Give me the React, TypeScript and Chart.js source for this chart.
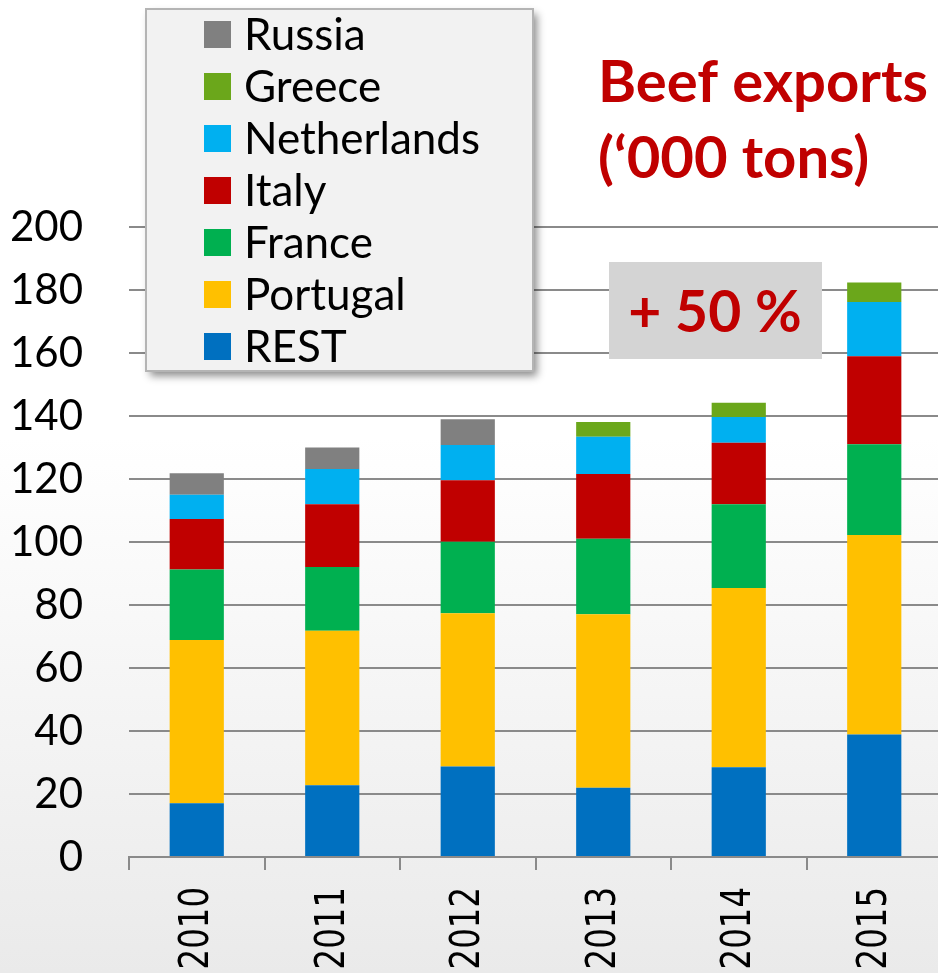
import { useEffect, useRef } from "react";
import { Chart, registerables } from "chart.js";

Chart.register(...registerables);

// ---- data ----
const years = ["2010", "2011", "2012", "2013", "2014", "2015"];
const rest = [17.1, 22.8, 28.7, 22.0, 28.5, 38.9];
const portugal = [51.8, 49.0, 48.7, 55.1, 56.9, 63.3];
const france = [22.4, 20.3, 22.7, 23.9, 26.6, 28.8];
const italy = [16.0, 19.9, 19.5, 20.6, 19.5, 28.0];
const netherlands = [7.7, 11.2, 11.2, 11.8, 8.2, 17.2];
const greece = [0, 0, 0, 4.7, 4.5, 6.2];
const russia = [6.8, 6.8, 8.2, 0, 0, 0];
const yTicks = [0, 20, 40, 60, 80, 100, 120, 140, 160, 180, 200];
const seriesNames = ["REST", "Portugal", "France", "Italy", "Netherlands", "Greece", "Russia"];
const titleLines = ["Beef exports", "(\u2018000 tons)"];
const growthLabel = "+ 50 %";

// ---- styles ----
const seriesColors = ["#0070c0", "#ffc000", "#00b050", "#c00000", "#00b0f0", "#6ba71b", "#808080"];
const RED = "#c00000";
const GRID = "#8a8a8a";

const backgroundPlugin = {
  id: "bgGradient",
  beforeDraw(chart: any) {
    const { ctx, width, height } = chart;
    const g = ctx.createLinearGradient(0, 0, 0, height);
    g.addColorStop(0, "#ffffff");
    g.addColorStop(0.45, "#ffffff");
    g.addColorStop(1, "#eaeaea");
    ctx.save();
    ctx.fillStyle = g;
    ctx.fillRect(0, 0, width, height);
    ctx.restore();
  },
};

const decorPlugin = {
  id: "decor",
  afterDraw(chart: any) {
    const ctx = chart.ctx as CanvasRenderingContext2D;
    const xs = chart.scales.x;
    ctx.save();

    // rotated x labels
    ctx.fillStyle = "#000";
    ctx.font = "41px 'DejaVu Sans'";
    ctx.textAlign = "right";
    ctx.textBaseline = "middle";
    years.forEach((lab, i) => {
      const x = xs.getPixelForValue(i);
      ctx.save();
      ctx.translate(x + 1, 887);
      ctx.rotate(-Math.PI / 2);
      ctx.scale(0.79, 1);
      ctx.fillText(lab, 0, 0);
      ctx.restore();
    });

    // legend box
    ctx.save();
    ctx.shadowColor = "rgba(0,0,0,0.45)";
    ctx.shadowBlur = 8;
    ctx.shadowOffsetX = 4;
    ctx.shadowOffsetY = 5;
    ctx.fillStyle = "#f2f2f2";
    ctx.fillRect(146, 9, 387, 362);
    ctx.restore();
    ctx.strokeStyle = "#b4b4b4";
    ctx.lineWidth = 2;
    ctx.strokeRect(146, 9, 387, 362);
    const ds = chart.data.datasets.slice().reverse();
    ctx.textAlign = "left";
    ctx.textBaseline = "alphabetic";
    ctx.font = "44px Lato";
    ds.forEach((d: any, i: number) => {
      const y = 21 + i * 52;
      ctx.fillStyle = d.backgroundColor;
      ctx.fillRect(204, y, 27, 27);
      ctx.fillStyle = "#000";
      ctx.fillText(d.label, 244, y + 29);
    });

    // title
    ctx.fillStyle = RED;
    ctx.font = "bold 58px Lato";
    ctx.fillText(titleLines[0], 598, 102);
    ctx.fillText(titleLines[1], 598, 178);

    // growth box
    ctx.fillStyle = "#d4d4d4";
    ctx.fillRect(609, 262, 213, 97);
    ctx.fillStyle = RED;
    ctx.font = "bold 57px Lato";
    ctx.textAlign = "center";
    ctx.fillText(growthLabel, 715, 332);

    ctx.restore();
  },
};

export default function App() {
  const ref = useRef<HTMLCanvasElement>(null);

  useEffect(() => {
    if (!ref.current) return;
    const values = [rest, portugal, france, italy, netherlands, greece, russia];
    const chart = new Chart(ref.current, {
      type: "bar",
      data: {
        labels: years,
        datasets: values.map((v, i) => ({
          label: seriesNames[i],
          data: v,
          backgroundColor: seriesColors[i],
          borderWidth: 0,
          barPercentage: 0.4,
          categoryPercentage: 1.0,
        })),
      },
      options: {
        animation: false,
        responsive: false,
        layout: { padding: { top: 227, left: 0, right: 0, bottom: 0 } },
        plugins: { legend: { display: false }, tooltip: { enabled: false }, title: { display: false } },
        scales: {
          x: {
            stacked: true,
            offset: true,
            ticks: { display: false },
            grid: {
              display: true,
              offset: true,
              drawOnChartArea: false,
              drawTicks: true,
              tickLength: 13,
              color: GRID,
              lineWidth: 2,
            },
            border: { display: true, color: GRID, width: 2 },
            afterFit: (s: any) => {
              s.height = 116;
            },
          },
          y: {
            stacked: true,
            min: 0,
            max: 200,
            afterBuildTicks: (s: any) => {
              s.ticks = yTicks.map((v) => ({ value: v }));
            },
            ticks: {
              color: "#000",
              font: { family: "Lato", size: 42 },
              padding: 46,
            },
            grid: { color: GRID, lineWidth: 2, drawTicks: false },
            border: { display: false },
            afterFit: (s: any) => {
              s.width = 129;
            },
          },
        },
      },
      plugins: [backgroundPlugin, decorPlugin],
    });
    return () => chart.destroy();
  }, []);

  return (
    <div style={{ position: "absolute", left: 0, top: 0, width: 938, height: 973, overflow: "hidden" }}>
      <canvas ref={ref} width={942} height={973} style={{ display: "block", width: 942, height: 973 }} />
    </div>
  );
}
